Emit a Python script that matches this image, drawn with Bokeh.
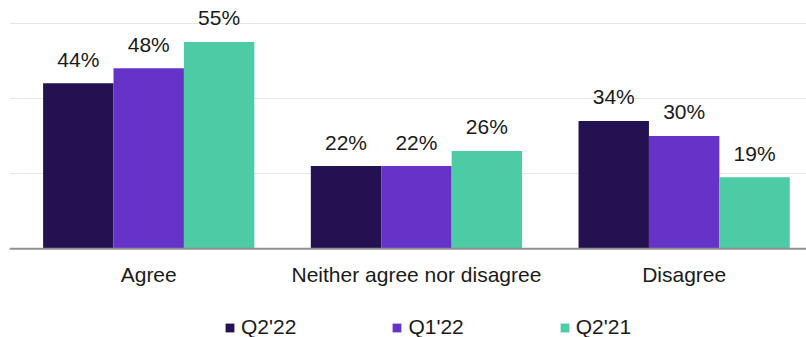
from bokeh.plotting import figure
from bokeh.models import (ColumnDataSource, Range1d, FixedTicker, Legend, LegendItem, Span)
from bokeh.core.properties import value
from bokeh.embed import file_html
from bokeh.resources import INLINE

categories = ["Agree", "Neither agree nor disagree", "Disagree"]
series = ["Q2'22", "Q1'22", "Q2'21"]
q2_22 = [44, 22, 34]
q1_22 = [48, 22, 30]
q2_21 = [55, 26, 19]
colors = ["#241152", "#6633C8", "#4DCBA5"]

FONT = "Liberation Sans"
values_by_series = [q2_22, q1_22, q2_21]

centers = [i + 0.5 for i in range(len(categories))]
bar_w = 0.263
offsets = [-bar_w, 0.0, bar_w]

p = figure(width=806, height=337, output_backend="svg", toolbar_location=None,
           x_range=Range1d(-0.02, 2.957), y_range=Range1d(-23.58, 66),
           min_border_left=9, min_border_right=0, min_border_top=0, min_border_bottom=0)
p.outline_line_color = None
p.background_fill_color = "white"
p.border_fill_color = "white"
p.xaxis.visible = False
p.yaxis.visible = False
p.xgrid.grid_line_color = None
p.yaxis.ticker = FixedTicker(ticks=[20, 40, 60])
p.ygrid.grid_line_color = "#e6e6e6"
p.ygrid.grid_line_width = 1

renderers = []
for name, vals, col, off in zip(series, values_by_series, colors, offsets):
    src = ColumnDataSource(dict(
        x=[c + off for c in centers],
        top=vals,
        lab=[f"{v}%" for v in vals],
    ))
    r = p.vbar(x="x", top="top", bottom=0, width=bar_w, source=src,
               fill_color=col, line_color=None)
    renderers.append((name, r))
    p.text(x="x", y="top", text="lab", source=src, text_align="center",
           text_baseline="alphabetic", y_offset=-24,
           text_font=value(FONT), text_font_size="21px", text_color="#1a1a1a")

# baseline
p.add_layout(Span(location=0, dimension="width", line_color="#8f8f8f", line_width=2))

# category labels
cat_src = ColumnDataSource(dict(x=centers, y=[0] * len(centers), lab=categories))
p.text(x="x", y="y", text="lab", source=cat_src, text_align="center",
       text_baseline="alphabetic", y_offset=26,
       text_font=value(FONT), text_font_size="21px", text_color="#1a1a1a")

legend = Legend(items=[LegendItem(label=n, renderers=[r]) for n, r in renderers],
                orientation="horizontal", location=(215, -2),
                glyph_width=11, glyph_height=11, label_standoff=6, spacing=95,
                padding=0, margin=0, border_line_color=None,
                background_fill_alpha=0,
                label_text_font=FONT, label_text_font_size="21px",
                label_text_color="#1a1a1a")
p.add_layout(legend, "center")

open("out.html", "w").write(file_html(p, INLINE))
